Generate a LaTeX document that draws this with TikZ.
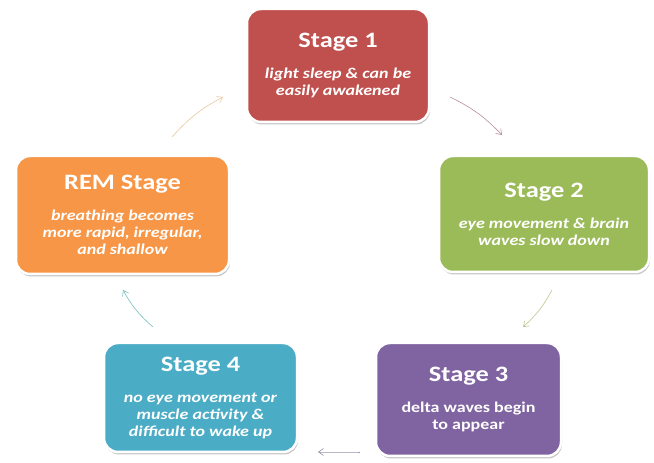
\documentclass[tikz,border=0pt]{standalone}
\usepackage{fontspec}
\setmainfont{Carlito}[FakeStretch=1.2]
\usetikzlibrary{arrows.meta}

\definecolor{stageRed}{HTML}{C0504D}
\definecolor{stageGreen}{HTML}{9BBB59}
\definecolor{stagePurple}{HTML}{8064A2}
\definecolor{stageBlue}{HTML}{4BACC6}
\definecolor{stageOrange}{HTML}{F79646}

\newcommand{\stagetitle}{\fontsize{22}{24}\selectfont\bfseries\upshape}
\newcommand{\stagetext}{\fontsize{15}{17}\selectfont\bfseries\itshape}
\newcommand{\stageplain}{\fontsize{15}{17}\selectfont\bfseries\upshape}

\tikzstyle{stagebox} = [rectangle, rounded corners=14pt, draw=white, line width=2.5pt, text=white, align=center, inner sep=4pt, font=\stagetext, preaction={fill=black!22, transform canvas={xshift=1pt, yshift=-2.5pt}}]
\tikzstyle{arrow} = [line width=0.6pt, -{Straight Barb[length=5pt,width=7pt]}, bend left=10]

\begin{document}
\begin{tikzpicture}[x=1pt,y=1pt]
    \useasboundingbox (0,0) rectangle (654,463);

    % Nodes
    \node(stage1) [stagebox, fill=stageRed, minimum width=182pt, minimum height=113pt] at (338,397.5)
        {{\stagetitle Stage 1}\\[14pt] light sleep \& can be\\ easily awakened};
    \node(stage2) [stagebox, fill=stageGreen, minimum width=210pt, minimum height=116pt] at (544,249)
        {{\stagetitle Stage 2}\\[14pt] eye movement \& brain\\ waves slow down};
    \node(stage3) [stagebox, fill=stagePurple, font=\stageplain, minimum width=185pt, minimum height=113pt] at (468.5,63.5)
        {{\stagetitle Stage 3}\\[14pt] delta waves begin\\ to appear};
    \node(stage4) [stagebox, fill=stageBlue, minimum width=193pt, minimum height=109pt] at (200.5,65.5)
        {{\stagetitle Stage 4}\\[14pt] no eye movement or\\ muscle activity \&\\ difficult to wake up};
    \node(rem) [stagebox, fill=stageOrange, minimum width=213pt, minimum height=118pt] at (122.5,248)
        {{\stagetitle REM Stage}\\[14pt] breathing becomes\\ more rapid, irregular,\\ and shallow};

    % Arrow ends
    \coordinate (remOut) at (172,326);
    \coordinate (oneIn) at (223,366);
    \coordinate (oneOut) at (450,366);
    \coordinate (twoIn) at (502,328);
    \coordinate (twoOut) at (552,173);
    \coordinate (threeIn) at (523,136);
    \coordinate (threeOut) at (360,11);
    \coordinate (fourIn) at (318,11);
    \coordinate (fourOut) at (153,136);
    \coordinate (remIn) at (123,173);

    % Arrows
    \draw [arrow, draw={rgb,255:red,232;green,200;blue,160}] (remOut) to (oneIn);
    \draw [arrow, draw={rgb,255:red,185;green,140;blue,160}] (oneOut) to (twoIn);
    \draw [arrow, draw={rgb,255:red,185;green,200;blue,140}] (twoOut) to (threeIn);
    \draw [arrow, draw={rgb,255:red,150;green,145;blue,170}, bend left=0] (threeOut) to (fourIn);
    \draw [arrow, draw={rgb,255:red,120;green,190;blue,190}] (fourOut) to (remIn);

\end{tikzpicture}
\end{document}
